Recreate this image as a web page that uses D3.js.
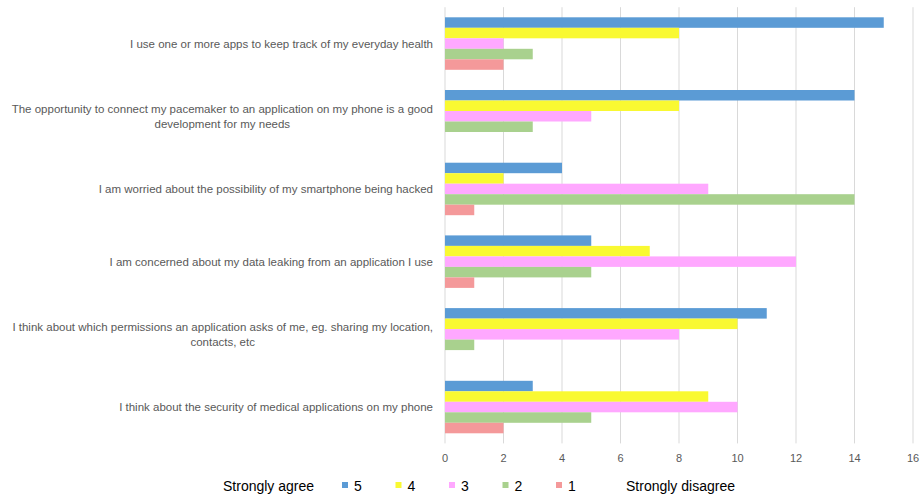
<!DOCTYPE html>
<html><head><meta charset="utf-8">
<script src="https://cdn.jsdelivr.net/npm/d3@7"></script>
<style>
body{margin:0;background:#fff;}
text{font-family:"Liberation Sans",Arial,sans-serif;}
</style></head>
<body><svg id="c" width="922" height="498"></svg>
<script>
const categories = [
  ["I use one or more apps to keep track of my everyday health"],
  ["The opportunity to connect my pacemaker to an application on my phone is a good", "development for my needs"],
  ["I am worried about the possibility of my smartphone being hacked"],
  ["I am concerned about my data leaking from an application I use"],
  ["I think about which permissions an application asks of me, eg. sharing my location,", "contacts, etc"],
  ["I think about the security of medical applications on my phone"]
];
const seriesNames = ["5", "4", "3", "2", "1"];
const s5 = [15, 14, 4, 5, 11, 3];
const s4 = [8, 8, 2, 7, 10, 9];
const s3 = [2, 5, 9, 12, 8, 10];
const s2 = [3, 3, 14, 5, 1, 5];
const s1 = [2, 0, 1, 1, 0, 2];
const seriesValues = [s5, s4, s3, s2, s1];
const colors = ["#5B9BD5", "#F9F932", "#FFA8FF", "#A9D18E", "#F4999A"];
const xTicks = [0, 2, 4, 6, 8, 10, 12, 14, 16];
const legendLeft = "Strongly agree";
const legendRight = "Strongly disagree";

const svg = d3.select("#c");
const x = d3.scaleLinear().domain([0, 16]).range([445, 913]);
const y = d3.scaleBand().domain(d3.range(categories.length)).range([7.2, 443.4]);
const bw = y.bandwidth();
const inner = d3.scaleBand().domain(d3.range(seriesNames.length)).range([bw * 0.139, bw * 0.861]);

// grid
svg.append("g").selectAll("line").data(xTicks).join("line")
  .attr("x1", d => x(d)).attr("x2", d => x(d))
  .attr("y1", 7.2).attr("y2", 443.4)
  .attr("stroke", "#D9D9D9").attr("stroke-width", 1);

// bars
seriesValues.forEach((vals, si) => {
  svg.append("g").selectAll("rect").data(vals).join("rect")
    .attr("x", x(0))
    .attr("y", (d, i) => y(i) + inner(si))
    .attr("width", d => x(d) - x(0))
    .attr("height", inner.bandwidth())
    .attr("fill", colors[si]);
});

// x tick labels
svg.append("g").selectAll("text").data(xTicks).join("text")
  .attr("x", d => x(d)).attr("y", 462)
  .attr("text-anchor", "middle")
  .attr("font-size", 11).attr("fill", "#595959")
  .text(d => d);

// category labels
const labelRight = 433;
const lh = 15;
categories.forEach((lines, i) => {
  const cy = y(i) + bw / 2;
  const g = svg.append("g");
  const t = g.append("text").attr("font-size", 11.5).attr("fill", "#595959");
  const n = lines.length;
  lines.forEach((ln, k) => {
    t.append("tspan").attr("y", cy + (k - (n - 1) / 2) * lh + 4).text(ln);
  });
  if (n === 1) {
    t.attr("text-anchor", "end");
    t.selectAll("tspan").attr("x", labelRight);
  } else {
    let maxW = 0;
    t.selectAll("tspan").each(function(){ maxW = Math.max(maxW, this.getComputedTextLength()); });
    t.attr("text-anchor", "middle");
    t.selectAll("tspan").attr("x", labelRight - maxW / 2);
  }
});

// legend
const ly = 491;
svg.append("text").attr("x", 223).attr("y", ly).attr("font-size", 14).attr("fill", "#000").text(legendLeft);
const lx = d3.scaleBand().domain(d3.range(seriesNames.length)).range([342, 609.5]);
seriesNames.forEach((nm, i) => {
  svg.append("rect").attr("x", lx(i)).attr("y", 482).attr("width", 6).attr("height", 6).attr("fill", colors[i]);
  svg.append("text").attr("x", lx(i) + 12).attr("y", ly).attr("font-size", 14).attr("fill", "#000").text(nm);
});
svg.append("text").attr("x", 626).attr("y", ly).attr("font-size", 14).attr("fill", "#000").text(legendRight);
</script></body></html>
